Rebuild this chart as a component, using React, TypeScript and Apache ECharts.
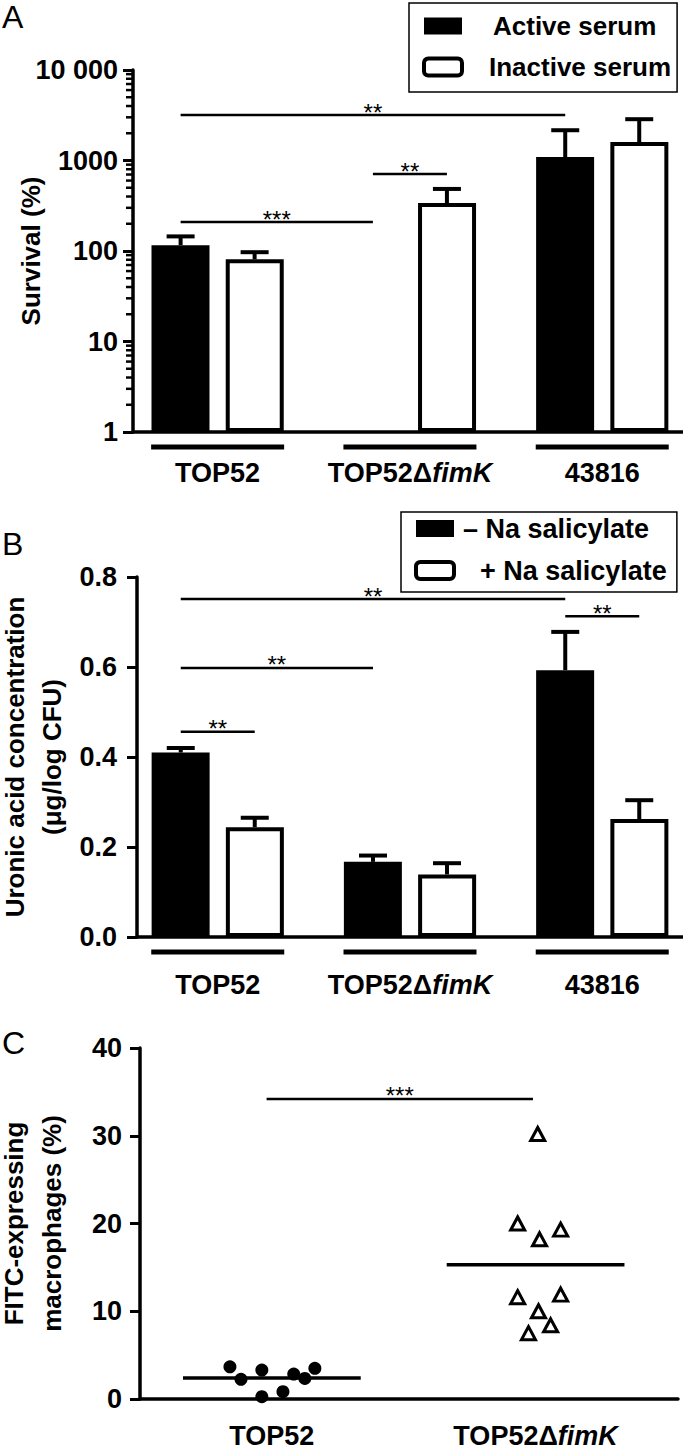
import React, { useEffect, useRef } from 'react';
import * as echarts from 'echarts';

const FONT = "'Liberation Sans', Arial, Helvetica, sans-serif";

// ---------- shared categories ----------
const GROUP_PLAIN = ['TOP52', 'TOP52Δ', '43816'];
const GROUP_ITALIC = ['', 'fimK', ''];
const GROUP_POS = [0, 1, 2];

// ---------- panel A (log scale) ----------
const A_SERIES = ['Active serum', 'Inactive serum'];
const A_ACTIVE = [116, null, 1090];
const A_ACTIVE_ERR = [145, null, 2160];
const A_INACTIVE = [81, 339, 1600];
const A_INACTIVE_ERR = [97, 485, 2860];
const A_TICK_VALUES = [1, 10, 100, 1000, 10000];
const A_TICK_LABELS = ['1', '10', '100', '1000', '10 000'];
const A_MINOR_TICKS = [
  2, 3, 4, 5, 6, 7, 8, 9,
  20, 30, 40, 50, 60, 70, 80, 90,
  200, 300, 400, 500, 600, 700, 800, 900,
  2000, 3000, 4000, 5000, 6000, 7000, 8000, 9000,
];
// [fromGroup, fromSeries, toGroup, toSeries, y]
const A_SIG = [
  [0, 0, 2, 0, 3180],
  [0, 0, 1, 0, 209],
  [1, 0, 1, 1, 708],
];
const A_SIG_LABELS = ['**', '***', '**'];

// ---------- panel B ----------
const B_SERIES = ['– Na salicylate', '+ Na salicylate'];
const B_MINUS = [0.41, 0.167, 0.593];
const B_MINUS_ERR = [0.42, 0.181, 0.678];
const B_PLUS = [0.244, 0.139, 0.262];
const B_PLUS_ERR = [0.265, 0.164, 0.304];
const B_SIG = [
  [0, 0, 2, 0, 0.751],
  [2, 0, 2, 1, 0.713],
  [0, 0, 1, 0, 0.598],
  [0, 0, 0, 1, 0.456],
];
const B_SIG_LABELS = ['**', '**', '**', '**'];

// ---------- panel C ----------
const C_CATS_PLAIN = ['TOP52', 'TOP52Δ'];
const C_CATS_ITALIC = ['', 'fimK'];
const C_POS = [0.5, 1.5];
const C_TOP52_X = [0.341, 0.383, 0.462, 0.462, 0.542, 0.583, 0.625, 0.663];
const C_TOP52_Y = [3.67, 2.24, 3.3, 0.26, 0.83, 2.84, 2.35, 3.49];
const C_FIMK_X = [1.508, 1.432, 1.515, 1.595, 1.432, 1.595, 1.511, 1.557, 1.473];
const C_FIMK_Y = [30.2, 20.0, 18.2, 19.3, 11.6, 11.9, 10.0, 8.4, 7.5];
const C_MEANS = [2.4, 15.3];
const C_SIG = [[0.48, 1.49, 34.2]];
const C_SIG_LABELS = ['***'];

// ---------- layout constants ----------
const BAR_W = 58;
const BAR_GAP = '28%';
const OFF = 37; // bar centre offset from group centre (px)
const CAP = 28;
const UL_W = 133;
const MEAN_HALF = 0.337;

const RICH = {
  n: { fontSize: 27, lineHeight: 28, fontWeight: 'bold', fontFamily: FONT, color: '#000' },
  i: { fontSize: 27, lineHeight: 28, fontWeight: 'bold', fontStyle: 'italic', fontFamily: FONT, color: '#000' },
};

function labelText(plain: string, italic: string) {
  return italic ? `{n|${plain}}{i|${italic}}` : `{n|${plain}}`;
}

const axisLineStyle = { color: '#000', width: 3.5 };

function errSeries(xi: number, yi: number, vals: any[], errs: any[], side: number) {
  const data: any[] = [];
  GROUP_POS.forEach((x, i) => {
    if (vals[i] != null) data.push([x, vals[i], errs[i]]);
  });
  return {
    type: 'custom', xAxisIndex: xi, yAxisIndex: yi, silent: true, clip: false, z: 4,
    data,
    renderItem: (params: any, api: any) => {
      const p0 = api.coord([api.value(0), api.value(1)]);
      const p1 = api.coord([api.value(0), api.value(2)]);
      const cx = p0[0] + side * OFF;
      return {
        type: 'group',
        children: [
          { type: 'line', shape: { x1: cx, y1: p0[1], x2: cx, y2: p1[1] }, style: { stroke: '#000', lineWidth: 4 } },
          { type: 'line', shape: { x1: cx - CAP / 2, y1: p1[1], x2: cx + CAP / 2, y2: p1[1] }, style: { stroke: '#000', lineWidth: 4 } },
        ],
      };
    },
  };
}

function sigSeries(xi: number, yi: number, items: number[][], labels: string[], resolve: (it: number[], api: any) => number[]) {
  return {
    type: 'custom', xAxisIndex: xi, yAxisIndex: yi, silent: true, clip: false, z: 6,
    data: items.map((it) => [0, it[it.length - 1]]),
    renderItem: (params: any, api: any) => {
      const it = items[params.dataIndex];
      const [x1, x2, y] = resolve(it, api);
      return {
        type: 'group',
        children: [
          { type: 'line', shape: { x1, y1: y, x2, y2: y }, style: { stroke: '#000', lineWidth: 2.5 } },
          {
            type: 'text', x: (x1 + x2) / 2, y: y - 3,
            style: { text: labels[params.dataIndex], fontSize: 24, fontFamily: FONT, fill: '#000', align: 'center', verticalAlign: 'middle' },
          },
        ],
      };
    },
  };
}

function groupResolve(it: number[], api: any) {
  const pa = api.coord([GROUP_POS[it[0]], it[4]]);
  const pb = api.coord([GROUP_POS[it[2]], it[4]]);
  return [pa[0] + (it[1] === 0 ? -OFF : OFF), pb[0] + (it[3] === 0 ? -OFF : OFF), pa[1]];
}

function groupLabelSeries(xi: number, yi: number, yBase: number, ulOff: number, labelOff: number) {
  return {
    type: 'custom', xAxisIndex: xi, yAxisIndex: yi, silent: true, clip: false, z: 5,
    data: GROUP_POS.map((x) => [x, yBase]),
    renderItem: (params: any, api: any) => {
      const c = api.coord([api.value(0), api.value(1)]);
      const i = params.dataIndex;
      return {
        type: 'group',
        children: [
          { type: 'rect', shape: { x: c[0] - UL_W / 2, y: c[1] + ulOff - 2.5, width: UL_W, height: 5 }, style: { fill: '#000' } },
          {
            type: 'text', x: c[0], y: c[1] + labelOff,
            style: { text: labelText(GROUP_PLAIN[i], GROUP_ITALIC[i]), rich: RICH, align: 'center', verticalAlign: 'middle', fill: '#000' },
          },
        ],
      };
    },
  };
}

const tickLabelStyle = { fontSize: 27, fontWeight: 'bold', color: '#000', fontFamily: FONT };
const nameStyle = { fontSize: 26, fontWeight: 'bold', color: '#000', fontFamily: FONT };

function buildOption() {
  return {
    animation: false,
    textStyle: { fontFamily: FONT },
    graphic: [
      { type: 'text', left: 2, top: 1, style: { text: 'A', fontSize: 32, fontFamily: FONT, fill: '#000' } },
      { type: 'text', left: 2, top: 528, style: { text: 'B', fontSize: 32, fontFamily: FONT, fill: '#000' } },
      { type: 'text', left: 2, top: 1027, style: { text: 'C', fontSize: 32, fontFamily: FONT, fill: '#000' } },
    ],
    legend: [
      {
        orient: 'vertical', left: 409, top: 3, selectedMode: false,
        padding: [10, 6, 12, 13], itemGap: 15, itemWidth: 38, itemHeight: 17,
        borderColor: '#000', borderWidth: 1.5,
        textStyle: { fontSize: 26, fontWeight: 'bold', color: '#000', fontFamily: FONT, lineHeight: 26 },
        data: [
          { name: A_SERIES[0], icon: 'rect', itemStyle: { color: '#000', borderWidth: 0 }, textStyle: { padding: [0, 0, 0, 26] } },
          { name: A_SERIES[1], icon: 'roundRect', itemStyle: { color: '#fff', borderColor: '#000', borderWidth: 4 }, textStyle: { padding: [0, 0, 0, 22] } },
        ],
      },
      {
        orient: 'vertical', left: 401, top: 512, selectedMode: false,
        padding: [3, 10, 8, 13], itemGap: 15, itemWidth: 38, itemHeight: 17,
        borderColor: '#000', borderWidth: 1.5,
        textStyle: { fontSize: 27, fontWeight: 'bold', color: '#000', fontFamily: FONT, lineHeight: 27 },
        data: [
          { name: B_SERIES[0], icon: 'rect', itemStyle: { color: '#000', borderWidth: 0 }, textStyle: { padding: [0, 0, 0, 4] } },
          { name: B_SERIES[1], icon: 'roundRect', itemStyle: { color: '#fff', borderColor: '#000', borderWidth: 4 }, textStyle: { padding: [0, 0, 0, 21] } },
        ],
      },
    ],
    grid: [
      { left: 133, right: 0, top: 70, height: 362, outerBoundsMode: 'none', containLabel: false },
      { left: 137, right: 0, top: 577, height: 360, outerBoundsMode: 'none', containLabel: false },
      { left: 140, right: 5, top: 1048, height: 351, outerBoundsMode: 'none', containLabel: false },
    ],
    xAxis: [
      {
        gridIndex: 0, type: 'value', min: -0.44, max: 2.42,
        axisLine: { show: true, onZero: false, lineStyle: axisLineStyle },
        axisTick: { show: false }, axisLabel: { show: false }, splitLine: { show: false },
      },
      {
        gridIndex: 1, type: 'value', min: -0.42, max: 2.42,
        axisLine: { show: true, onZero: false, lineStyle: axisLineStyle },
        axisTick: { show: false }, axisLabel: { show: false }, splitLine: { show: false },
      },
      {
        gridIndex: 2, type: 'value', min: 0, max: 2.04, interval: 0.5,
        axisLine: { show: true, onZero: false, lineStyle: axisLineStyle },
        axisTick: { show: false }, splitLine: { show: false },
        axisLabel: {
          margin: 23, rich: RICH, showMinLabel: true, showMaxLabel: false,
          formatter: (v: number) => {
            const i = C_POS.findIndex((p) => Math.abs(p - v) < 1e-6);
            return i >= 0 ? labelText(C_CATS_PLAIN[i], C_CATS_ITALIC[i]) : '';
          },
        },
      },
    ],
    yAxis: [
      {
        gridIndex: 0, type: 'log', logBase: 10, min: 1, max: 10000,
        axisLine: { show: true, onZero: false, lineStyle: axisLineStyle },
        axisTick: { show: true, length: 10, lineStyle: { color: '#000', width: 3 } },
        splitLine: { show: false },
        axisLabel: {
          ...tickLabelStyle, margin: 15,
          formatter: (v: number) => {
            const i = A_TICK_VALUES.findIndex((t) => Math.abs(t - v) < t * 1e-6);
            return i >= 0 ? A_TICK_LABELS[i] : '';
          },
        },
        name: 'Survival (%)', nameLocation: 'middle', nameGap: 87, nameMoveOverlap: false,
        nameTextStyle: { ...nameStyle, lineHeight: 30 },
      },
      {
        gridIndex: 1, type: 'value', min: 0, max: 0.8, interval: 0.2,
        axisLine: { show: true, onZero: false, lineStyle: axisLineStyle },
        axisTick: { show: true, length: 10, lineStyle: { color: '#000', width: 3 } },
        splitLine: { show: false },
        axisLabel: { ...tickLabelStyle, margin: 20, formatter: (v: number) => v.toFixed(1) },
        name: 'Uronic acid concentration\n(μg/log CFU)', nameLocation: 'middle', nameGap: 67, nameMoveOverlap: false,
        nameTextStyle: { ...nameStyle, lineHeight: 37 },
      },
      {
        gridIndex: 2, type: 'value', min: 0, max: 40, interval: 10,
        axisLine: { show: true, onZero: false, lineStyle: axisLineStyle },
        axisTick: { show: true, length: 10, lineStyle: { color: '#000', width: 3 } },
        splitLine: { show: false },
        axisLabel: { ...tickLabelStyle, margin: 18 },
        name: 'FITC-expressing\nmacrophages (%)', nameLocation: 'middle', nameGap: 69, nameMoveOverlap: false,
        nameTextStyle: { ...nameStyle, lineHeight: 38 },
      },
    ],
    series: [
      // ----- A -----
      {
        name: A_SERIES[0], type: 'bar', xAxisIndex: 0, yAxisIndex: 0, barWidth: BAR_W, barGap: BAR_GAP,
        itemStyle: { color: '#000' },
        data: GROUP_POS.map((x, i) => [x, A_ACTIVE[i] == null ? '-' : A_ACTIVE[i]]),
      },
      {
        name: A_SERIES[1], type: 'bar', xAxisIndex: 0, yAxisIndex: 0, barWidth: BAR_W, barGap: BAR_GAP,
        itemStyle: { color: '#fff', borderColor: '#000', borderWidth: 4 },
        data: GROUP_POS.map((x, i) => [x, A_INACTIVE[i]]),
      },
      errSeries(0, 0, A_ACTIVE, A_ACTIVE_ERR, -1),
      errSeries(0, 0, A_INACTIVE, A_INACTIVE_ERR, 1),
      {
        type: 'custom', xAxisIndex: 0, yAxisIndex: 0, silent: true, clip: false, z: 5,
        data: A_MINOR_TICKS.map((v) => [-0.44, v]),
        renderItem: (params: any, api: any) => {
          const p = api.coord([api.value(0), api.value(1)]);
          return { type: 'line', shape: { x1: p[0] - 7, y1: p[1], x2: p[0], y2: p[1] }, style: { stroke: '#000', lineWidth: 2.5 } };
        },
      },
      groupLabelSeries(0, 0, 1, 15, 41),
      sigSeries(0, 0, A_SIG, A_SIG_LABELS, groupResolve),
      // ----- B -----
      {
        name: B_SERIES[0], type: 'bar', xAxisIndex: 1, yAxisIndex: 1, barWidth: BAR_W, barGap: BAR_GAP,
        itemStyle: { color: '#000' },
        data: GROUP_POS.map((x, i) => [x, B_MINUS[i]]),
      },
      {
        name: B_SERIES[1], type: 'bar', xAxisIndex: 1, yAxisIndex: 1, barWidth: BAR_W, barGap: BAR_GAP,
        itemStyle: { color: '#fff', borderColor: '#000', borderWidth: 4 },
        data: GROUP_POS.map((x, i) => [x, B_PLUS[i]]),
      },
      errSeries(1, 1, B_MINUS, B_MINUS_ERR, -1),
      errSeries(1, 1, B_PLUS, B_PLUS_ERR, 1),
      groupLabelSeries(1, 1, 0, 15, 48),
      sigSeries(1, 1, B_SIG, B_SIG_LABELS, groupResolve),
      // ----- C -----
      {
        type: 'scatter', xAxisIndex: 2, yAxisIndex: 2, symbol: 'circle', symbolSize: 13,
        itemStyle: { color: '#000', opacity: 1 },
        data: C_TOP52_X.map((x, i) => [x, C_TOP52_Y[i]]),
      },
      {
        type: 'scatter', xAxisIndex: 2, yAxisIndex: 2, symbol: 'triangle', symbolSize: [14, 13],
        itemStyle: { color: '#fff', borderColor: '#000', borderWidth: 3, opacity: 1 },
        data: C_FIMK_X.map((x, i) => [x, C_FIMK_Y[i]]),
      },
      {
        type: 'custom', xAxisIndex: 2, yAxisIndex: 2, silent: true, clip: false, z: 1,
        data: C_POS.map((x, i) => [x, C_MEANS[i]]),
        renderItem: (params: any, api: any) => {
          const a = api.coord([api.value(0) - MEAN_HALF, api.value(1)]);
          const b = api.coord([api.value(0) + MEAN_HALF, api.value(1)]);
          return { type: 'line', shape: { x1: a[0], y1: a[1], x2: b[0], y2: b[1] }, style: { stroke: '#000', lineWidth: 3.5 } };
        },
      },
      sigSeries(2, 2, C_SIG, C_SIG_LABELS, (it, api) => {
        const a = api.coord([it[0], it[2]]);
        const b = api.coord([it[1], it[2]]);
        return [a[0], b[0], a[1]];
      }),
    ],
  };
}

export default function App() {
  const ref = useRef<HTMLDivElement>(null);
  useEffect(() => {
    document.body.style.margin = '0';
    const chart = echarts.init(ref.current as HTMLDivElement, null, { renderer: 'svg' });
    chart.setOption(buildOption() as any);
    return () => chart.dispose();
  }, []);
  return <div ref={ref} style={{ width: 683, height: 1451 }} />;
}
